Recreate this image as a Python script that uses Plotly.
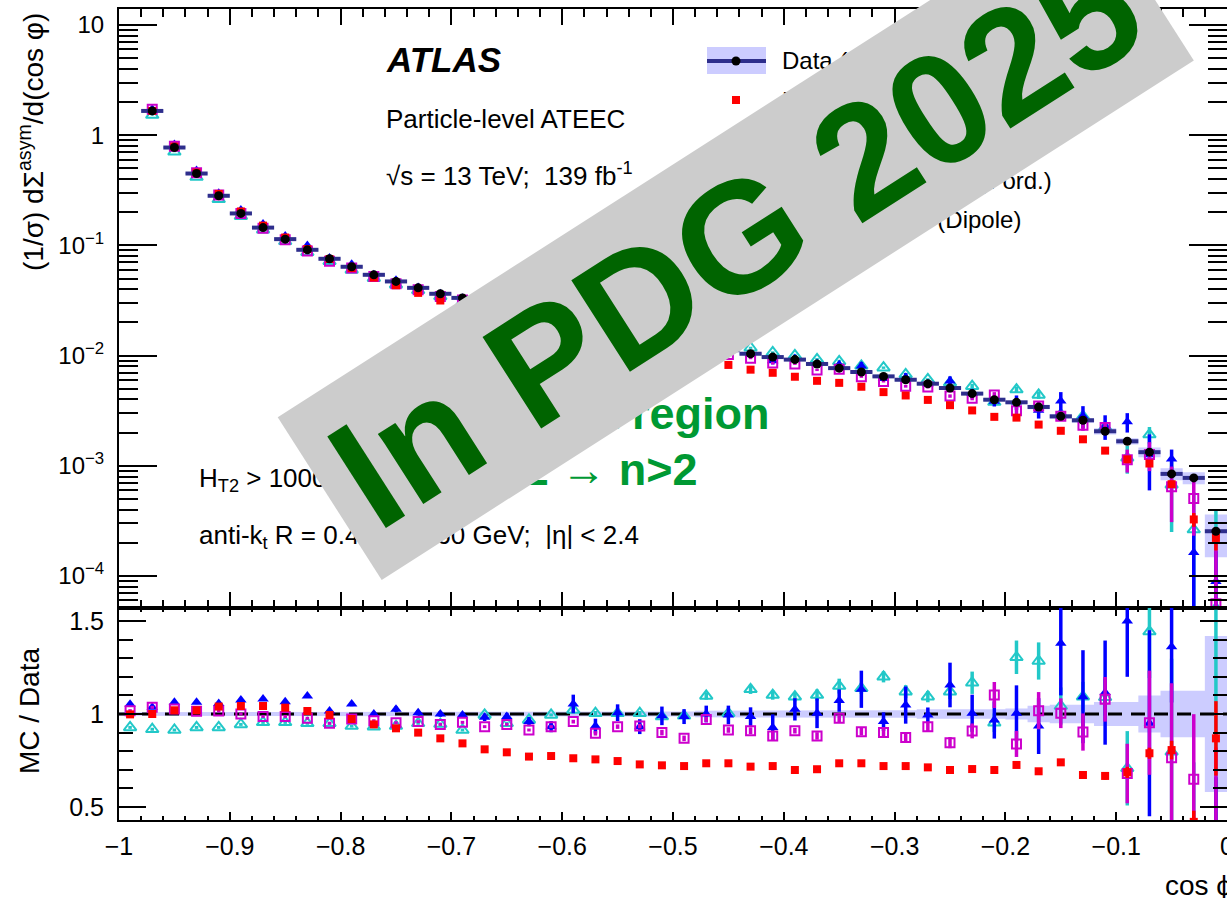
import numpy as np
import plotly.graph_objects as go

# ---------------- data ----------------
bin_centers = [-0.99, -0.97, -0.95, -0.93, -0.91, -0.89, -0.87, -0.85, -0.83, -0.81,
               -0.79, -0.77, -0.75, -0.73, -0.71, -0.69, -0.67, -0.65, -0.63, -0.61,
               -0.59, -0.57, -0.55, -0.53, -0.51, -0.49, -0.47, -0.45, -0.43, -0.41,
               -0.39, -0.37, -0.35, -0.33, -0.31, -0.29, -0.27, -0.25, -0.23, -0.21,
               -0.19, -0.17, -0.15, -0.13, -0.11, -0.09, -0.07, -0.05, -0.03, -0.01]
bin_half_width = 0.01

data_vals = [20.0, 1.66, 0.773, 0.449, 0.282, 0.195, 0.145, 0.114, 0.0912, 0.0756,
             0.0640, 0.0541, 0.0471, 0.0412, 0.0364, 0.0334, 0.0302, 0.0273, 0.0247, 0.0224,
             0.0204, 0.0186, 0.0170, 0.0156, 0.0143, 0.0132, 0.0122, 0.0112, 0.0104, 0.0097,
             0.0092, 0.0084, 0.0077, 0.0071, 0.00648, 0.00604, 0.00556, 0.00508, 0.00452, 0.00398,
             0.00377, 0.00342, 0.00281, 0.00259, 0.00206, 0.00167, 0.00133, 0.000845, 0.000777, 0.000255]

data_rel_unc = [0.010, 0.010, 0.010, 0.010, 0.010, 0.010, 0.010, 0.010, 0.010, 0.010,
                0.010, 0.010, 0.010, 0.010, 0.010, 0.010, 0.010, 0.010, 0.010, 0.012,
                0.013, 0.013, 0.013, 0.013, 0.013, 0.013, 0.018, 0.018, 0.020, 0.020,
                0.020, 0.020, 0.020, 0.020, 0.020, 0.020, 0.025, 0.025, 0.025, 0.025,
                0.030, 0.045, 0.050, 0.050, 0.065, 0.065, 0.100, 0.125, 0.125, 0.420]

ratio_red = [0.998, 1.000, 1.020, 1.020, 1.040, 1.043, 1.043, 1.034, 1.016, 0.995,
             0.973, 0.944, 0.923, 0.900, 0.869, 0.842, 0.810, 0.794, 0.771, 0.774,
             0.762, 0.756, 0.747, 0.729, 0.724, 0.720, 0.735, 0.735, 0.717, 0.720,
             0.699, 0.703, 0.735, 0.735, 0.720, 0.720, 0.713, 0.699, 0.704, 0.699,
             0.726, 0.692, 0.740, 0.672, 0.667, 0.686, 0.789, 0.806, 0.420, 0.869]
err_red = [0.005, 0.005, 0.005, 0.005, 0.005, 0.005, 0.005, 0.005, 0.005, 0.005,
           0.005, 0.005, 0.005, 0.005, 0.005, 0.005, 0.005, 0.005, 0.005, 0.005,
           0.006, 0.006, 0.006, 0.006, 0.006, 0.006, 0.006, 0.006, 0.006, 0.006,
           0.008, 0.008, 0.008, 0.008, 0.008, 0.008, 0.008, 0.008, 0.008, 0.008,
           0.010, 0.010, 0.015, 0.015, 0.020, 0.030, 0.030, 0.050, 0.060, 0.200]

ratio_mag = [1.018, 1.036, 1.027, 1.015, 1.016, 1.000, 0.987, 0.987, 0.977, 0.950,
             0.973, 0.964, 0.953, 0.959, 0.944, 0.955, 0.932, 0.944, 0.914, 0.932,
             0.959, 0.896, 0.932, 0.935, 0.900, 0.869, 0.971, 0.914, 0.910, 0.882,
             0.910, 0.882, 0.977, 0.905, 0.900, 0.873, 0.932, 0.846, 0.909, 1.102,
             0.839, 1.018, 1.004, 0.903, 1.079, 0.680, 0.953, 0.765, 0.649, 0.220]
err_mag = [0.008, 0.008, 0.008, 0.008, 0.008, 0.008, 0.008, 0.008, 0.008, 0.008,
           0.008, 0.008, 0.008, 0.008, 0.008, 0.008, 0.008, 0.008, 0.008, 0.008,
           0.010, 0.012, 0.012, 0.012, 0.015, 0.015, 0.015, 0.015, 0.018, 0.025,
           0.015, 0.020, 0.020, 0.020, 0.020, 0.025, 0.025, 0.030, 0.040, 0.070,
           0.070, 0.100, 0.080, 0.100, 0.120, 0.160, 0.280, 0.400, 0.350, 0.600]

ratio_cyan = [0.928, 0.918, 0.914, 0.928, 0.928, 0.944, 0.955, 0.955, 0.950, 0.950,
              0.935, 0.932, 0.935, 0.950, 0.946, 0.914, 0.995, 0.950, 0.968, 0.995,
              1.022, 1.004, 1.004, 1.004, 0.986, 0.990, 1.097, 1.004, 1.133, 1.102,
              1.093, 1.102, 1.150, 1.138, 1.200, 1.120, 1.093, 1.120, 1.168, 0.953,
              1.305, 1.285, 1.043, 1.093, 1.090, 0.708, 1.443, 0.797, 0.340, 0.200]
err_cyan = [0.008, 0.008, 0.008, 0.008, 0.008, 0.008, 0.008, 0.008, 0.008, 0.008,
            0.008, 0.008, 0.008, 0.008, 0.008, 0.008, 0.008, 0.008, 0.008, 0.008,
            0.012, 0.012, 0.012, 0.012, 0.015, 0.015, 0.020, 0.020, 0.025, 0.025,
            0.025, 0.030, 0.040, 0.030, 0.030, 0.035, 0.030, 0.040, 0.060, 0.050,
            0.090, 0.100, 0.100, 0.080, 0.100, 0.200, 0.250, 0.500, 0.400, 1.360]

ratio_blue = [1.052, 1.036, 1.063, 1.063, 1.057, 1.075, 1.081, 1.066, 1.097, 1.016,
              1.054, 1.000, 1.025, 1.007, 1.000, 0.995, 0.982, 0.986, 0.959, 0.932,
              1.054, 0.935, 1.007, 0.932, 0.990, 0.986, 1.000, 0.995, 0.986, 0.928,
              1.025, 1.004, 1.072, 1.133, 0.959, 1.048, 0.995, 1.156, 1.004, 0.968,
              1.004, 0.935, 1.380, 1.093, 1.115, 1.500, 0.950, 1.362, 0.210, 0.350]
err_blue = [0.010, 0.010, 0.010, 0.010, 0.010, 0.010, 0.010, 0.010, 0.010, 0.010,
            0.012, 0.012, 0.015, 0.015, 0.015, 0.015, 0.020, 0.020, 0.025, 0.030,
            0.050, 0.040, 0.045, 0.040, 0.050, 0.040, 0.045, 0.050, 0.050, 0.070,
            0.060, 0.080, 0.060, 0.100, 0.050, 0.100, 0.040, 0.120, 0.100, 0.100,
            0.150, 0.150, 0.280, 0.250, 0.280, 0.300, 0.500, 0.300, 0.200, 0.310]

y_tick_vals = [1e-4, 1e-3, 1e-2, 1e-1, 1, 10]
y_tick_text = ["10<sup>\u22124</sup>", "10<sup>\u22123</sup>", "10<sup>\u22122</sup>",
               "10<sup>\u22121</sup>", "1", "10"]
ratio_tick_vals = [0.5, 1.0, 1.5]
ratio_tick_text = ["0.5", "1", "1.5"]

legend_labels = ["Data (stat. \u2295 syst.)", "Pythia 8 (A14)", "Sherpa 2.2.5",
                 "Herwig 7 (Ang. ord.)", "Herwig 7 (Dipole)"]

assert all(len(a) == 50 for a in [bin_centers, data_vals, data_rel_unc, ratio_red, err_red,
                                   ratio_mag, err_mag, ratio_cyan, err_cyan, ratio_blue, err_blue])

# ---------------- geometry ----------------
W, H = 1227, 898
ML, MR, MT, MB = 119, 0, 9, 78
PW = W - ML - MR
PH = H - MT - MB
split = 212.0 / PH


def pxx(x):
    return (x - ML) / PW


def pxy(y):
    return (H - MB - y) / PH


FONT = "Liberation Sans, Arial, Helvetica, sans-serif"
RED = "#ff0000"
MAG = "#cc00cc"
CYAN = "#22c8c8"
BLUE = "#0000ff"
NAVY = "#2e2e8c"
BAND = "#ccccff"

x = np.array(bin_centers)
d = np.array(data_vals)
rel = np.array(data_rel_unc)
edges_lo = x - bin_half_width
edges_hi = x + bin_half_width

fig = go.Figure()


def step_band(lo, hi, xa, ya):
    xs, ys = [], []
    for i in range(len(x)):
        xs += [edges_lo[i], edges_hi[i]]
        ys += [hi[i], hi[i]]
    for i in reversed(range(len(x))):
        xs += [edges_hi[i], edges_lo[i]]
        ys += [lo[i], lo[i]]
    return go.Scatter(x=xs, y=ys, fill="toself", fillcolor=BAND, mode="lines",
                      line=dict(width=0), xaxis=xa, yaxis=ya, showlegend=False,
                      hoverinfo="skip")


# top panel band
fig.add_trace(step_band(d * (1 - rel), d * (1 + rel), "x", "y"))

series = [
    ("cyan", ratio_cyan, err_cyan, dict(symbol="triangle-up-open", size=11, color=CYAN,
                                        line=dict(width=2, color=CYAN)), CYAN),
    ("blue", ratio_blue, err_blue, dict(symbol="triangle-up", size=10, color=BLUE), BLUE),
    ("mag", ratio_mag, err_mag, dict(symbol="square-open", size=9, color=MAG,
                                     line=dict(width=2, color=MAG)), MAG),
    ("red", ratio_red, err_red, dict(symbol="square", size=8, color=RED), RED),
]

for name, r, e, mk, col in series:
    r = np.array(r)
    e = np.array(e)
    vals = d * r
    up = d * e
    dn = np.minimum(d * e, 0.999 * vals)
    fig.add_trace(go.Scatter(x=x, y=vals, mode="markers", marker=mk, xaxis="x", yaxis="y",
                             error_y=dict(type="data", array=up, arrayminus=dn, color=col,
                                          thickness=3.5, width=0),
                             showlegend=False, hoverinfo="skip"))

# data points
fig.add_trace(go.Scatter(x=x, y=d, mode="markers",
                         marker=dict(symbol="circle", size=9, color="black"),
                         error_x=dict(type="data", array=[bin_half_width] * len(x), color=NAVY,
                                      thickness=4, width=0),
                         xaxis="x", yaxis="y", showlegend=False, hoverinfo="skip"))

# ratio panel
fig.add_trace(step_band(1 - rel, 1 + rel, "x2", "y2"))
fig.add_trace(go.Scatter(x=[-1, 0], y=[1, 1], mode="lines",
                         line=dict(color="black", width=3, dash="14px,9px"),
                         xaxis="x2", yaxis="y2", showlegend=False, hoverinfo="skip"))
for name, r, e, mk, col in series:
    fig.add_trace(go.Scatter(x=x, y=r, mode="markers", marker=mk, xaxis="x2", yaxis="y2",
                             error_y=dict(type="data", array=e, color=col, thickness=3.5, width=0),
                             showlegend=False, hoverinfo="skip"))

# legend symbols on a hidden pixel overlay
leg_x0, leg_x1, leg_xm = 707, 766, 736
leg_rows = [61, 100, 140, 180, 219]
fig.add_trace(go.Scatter(x=[leg_x0, leg_x1], y=[leg_rows[0]] * 2, mode="lines",
                         line=dict(color=NAVY, width=4), xaxis="x3", yaxis="y3",
                         showlegend=False, hoverinfo="skip"))
fig.add_trace(go.Scatter(x=[leg_xm], y=[leg_rows[0]], mode="markers",
                         marker=dict(symbol="circle", size=9, color="black"),
                         xaxis="x3", yaxis="y3", showlegend=False, hoverinfo="skip"))
leg_markers = [series[3][3], series[2][3], series[0][3], series[1][3]]
for row, mk in zip(leg_rows[1:], leg_markers):
    fig.add_trace(go.Scatter(x=[leg_xm], y=[row], mode="markers", marker=mk,
                             xaxis="x3", yaxis="y3", showlegend=False, hoverinfo="skip"))

# ---------------- axes ----------------
minor_log = [m * 10.0 ** ex for ex in range(-5, 2) for m in range(2, 10)]
common = dict(showline=True, linewidth=2, linecolor="black", mirror="allticks",
              showgrid=False, zeroline=False, ticks="inside", tickcolor="black", tickwidth=2,
              automargin=False)

fig.update_layout(
    width=W, height=H,
    margin=dict(l=ML, r=MR, t=MT, b=MB, pad=0, autoexpand=False),
    paper_bgcolor="white", plot_bgcolor="rgba(0,0,0,0)",
    font=dict(family=FONT, color="black"),
    showlegend=False,
    xaxis=dict(domain=[0, 1], anchor="y", range=[-1, 0], tickmode="linear", tick0=-1, dtick=0.1,
               ticklen=16, showticklabels=False,
               minor=dict(ticks="inside", ticklen=8, tick0=-1, dtick=0.02, tickcolor="black",
                          tickwidth=1.5, showgrid=False), **common),
    yaxis=dict(domain=[split, 1], anchor="x", type="log", range=[-4.29, 1.145],
               tickmode="array", tickvals=y_tick_vals, ticktext=y_tick_text, ticklen=38,
               tickfont=dict(size=24, family=FONT), ticklabelstandoff=8,
               minor=dict(ticks="inside", ticklen=19, tickmode="array", tickvals=minor_log,
                          tickcolor="black", tickwidth=1.5, showgrid=False), **common),
    xaxis2=dict(domain=[0, 1], anchor="y2", range=[-1, 0], tickmode="linear", tick0=-1, dtick=0.1,
                ticklen=8, tickfont=dict(size=25, family=FONT), ticklabelstandoff=3,
                ticklabeloverflow="allow",
                minor=dict(ticks="inside", ticklen=4, tick0=-1, dtick=0.02, tickcolor="black",
                           tickwidth=1.5, showgrid=False), **common),
    yaxis2=dict(domain=[0, split], anchor="x2", range=[0.43, 1.57], tickmode="array",
                tickvals=ratio_tick_vals, ticktext=ratio_tick_text, ticklen=27,
                tickfont=dict(size=25, family=FONT), ticklabelstandoff=8,
                minor=dict(ticks="inside", ticklen=14, tick0=0, dtick=0.1, tickcolor="black",
                           tickwidth=1.5, showgrid=False), **common),
    xaxis3=dict(domain=[0, 1], anchor="y3", range=[ML, W - MR], visible=False, fixedrange=True,
                automargin=False),
    yaxis3=dict(domain=[0, 1], anchor="x3", range=[H - MB, MT], visible=False, fixedrange=True,
                automargin=False),
)

# legend box behind the data symbol
fig.add_shape(type="rect", xref="paper", yref="paper", x0=pxx(leg_x0), x1=pxx(leg_x1),
              y0=pxy(74), y1=pxy(47), fillcolor=BAND, line=dict(width=0), layer="below")

# ---------------- text ----------------
ann = []


def text(s, xp, yp, size, xanchor="left", yanchor="middle", color="black", angle=0, **kw):
    ann.append(dict(text=s, x=pxx(xp), y=pxy(yp), xref="paper", yref="paper",
                    xanchor=xanchor, yanchor=yanchor, showarrow=False, textangle=angle,
                    font=dict(family=FONT, size=size, color=color), **kw))


text("<b><i>ATLAS</i></b>", 384, 59, 35)
text("Particle-level ATEEC", 384, 119, 26)
text("\u221as = 13 TeV;  139 fb<sup>-1</sup>", 384, 175, 26)
text("H<sub>T2</sub> > 1000 GeV", 197, 480, 26)
text("anti-k<sub>t</sub> R = 0.4;  p<sub>T</sub> > 60 GeV;  |\u03b7| < 2.4", 197, 536, 26)

# legend texts
text(legend_labels[0], 780, leg_rows[0], 24)
text(legend_labels[1], 780, leg_rows[1], 24)
text(legend_labels[2], 780, leg_rows[2], 24)
text(legend_labels[3], 1054, leg_rows[3], 24, xanchor="right")
text(legend_labels[4], 1023, leg_rows[4], 24, xanchor="right")

# green region labels
text("<b>Multijet region</b>", 772, 414, 45, xanchor="right", color="#009933")
text("<b>n=2</b> \u2192 <b>n>2</b>", 700, 469, 45, xanchor="right", color="#009933")

# axis titles
text("(1/\u03c3) d\u03a3<sup>asym</sup>/d(cos \u03c6)", 31, 11, 28, xanchor="center",
     yanchor="top", angle=-90)
text("MC / Data", 29, 711, 28, xanchor="center", angle=-90)
text("cos \u03d5", 1163, 885, 28)

# banner on top of everything
ann.append(dict(text="<b>In PDG 2025</b>", x=pxx(735.5), y=pxy(238.5), xref="paper", yref="paper",
                xanchor="center", yanchor="middle", showarrow=False, textangle=-32.6,
                width=963, height=192, bgcolor="#cccccc", borderpad=0, align="center",
                valign="middle",
                font=dict(family=FONT, size=158, color="#006400")))

fig.update_layout(annotations=ann)

fig.write_html("out.html")
